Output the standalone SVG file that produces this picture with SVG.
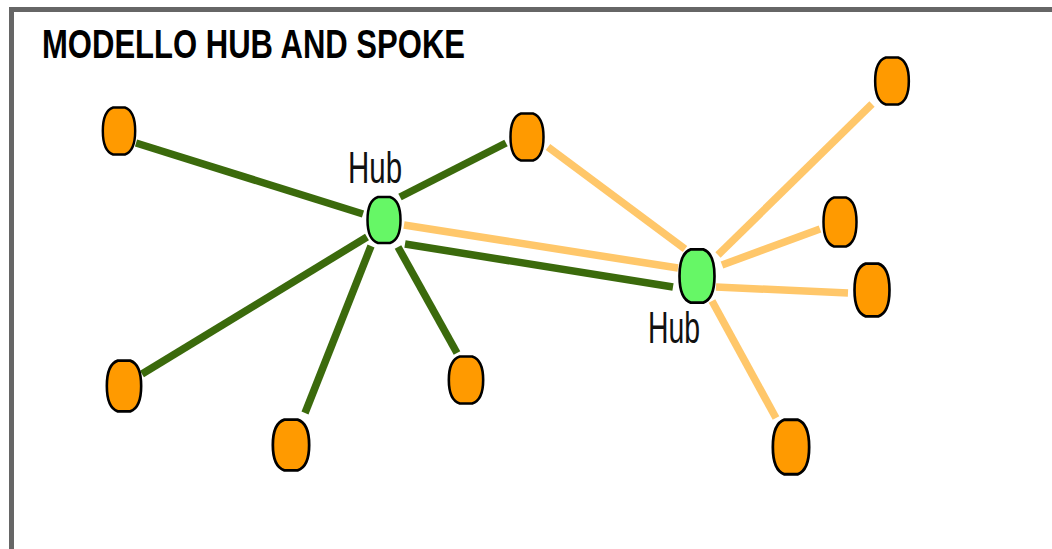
<svg xmlns="http://www.w3.org/2000/svg" xmlns:xlink="http://www.w3.org/1999/xlink" width="1052" height="549" viewBox="0 0 1052 549">
  <style>
    .frame { fill: none; stroke: #666666; stroke-width: 5; }
    .core { stroke: #3b6a0c; stroke-width: 7.5; stroke-linecap: butt; }
    .spoke { stroke: #ffc76a; stroke-width: 7.5; stroke-linecap: butt; }
    .spokeNode { fill: #ff9a00; stroke: #000; stroke-width: 2.5; stroke-linejoin: round; }
    .hubNode { fill: #66f766; stroke: #000; stroke-width: 2.5; stroke-linejoin: round; }
    .title { font-family: "Liberation Sans", Arial, sans-serif; font-weight: bold; font-size: 41px; fill: #000; }
    .label { font-family: "Liberation Sans", Arial, sans-serif; font-size: 44px; fill: #111; }
  </style>
  <defs>
    <!-- oval node outline with flattened ends, centred on the origin -->
    <path id="oct" d="M-6,-23.5 L6,-23.5 Q16.5,-20 16.5,0 Q16.5,20 6,23.5 L-6,23.5 Q-16.5,20 -16.5,0 Q-16.5,-20 -6,-23.5 Z"/>
  </defs>

  <rect width="1052" height="549" fill="#ffffff"/>
  <!-- outer frame: top and left rules -->
  <path class="frame" d="M11.5,549 L11.5,9.5 L1052,9.5"/>

  <text class="title" x="42" y="58" textLength="423" lengthAdjust="spacingAndGlyphs">MODELLO HUB AND SPOKE</text>

  <g id="connectors">
    <!-- links of the first hub -->
    <line class="core" x1="136" y1="143" x2="363" y2="214"/>
    <line class="core" x1="400" y1="197" x2="506" y2="143"/>
    <line class="core" x1="367" y1="237" x2="142" y2="374"/>
    <line class="core" x1="371" y1="246" x2="305" y2="413"/>
    <line class="core" x1="398" y1="247" x2="457" y2="353"/>
    <line class="core" x1="405" y1="244" x2="673" y2="287"/>
    <!-- links of the second hub -->
    <line class="spoke" x1="404" y1="225" x2="678" y2="268"/>
    <line class="spoke" x1="548" y1="147" x2="685" y2="249"/>
    <line class="spoke" x1="718" y1="255" x2="872" y2="104"/>
    <line class="spoke" x1="722" y1="265" x2="820" y2="229"/>
    <line class="spoke" x1="716" y1="287" x2="848" y2="293"/>
    <line class="spoke" x1="712" y1="301" x2="776" y2="418"/>
  </g>

  <g id="hub-1">
    <use xlink:href="#oct" class="hubNode" transform="translate(384,220) scale(1.0,0.98)"/>
    <text class="label" x="348" y="183" textLength="54" lengthAdjust="spacingAndGlyphs">Hub</text>
  </g>
  <g id="hub-2">
    <use xlink:href="#oct" class="hubNode" transform="translate(697,276) scale(1.06,1.13)"/>
    <text class="label" x="648" y="343" textLength="52" lengthAdjust="spacingAndGlyphs">Hub</text>
  </g>

  <g id="node-a"><use xlink:href="#oct" class="spokeNode" transform="translate(119,131) scale(0.98,1)"/></g>
  <g id="node-b"><use xlink:href="#oct" class="spokeNode" transform="translate(527,137) scale(1,1)"/></g>
  <g id="node-c"><use xlink:href="#oct" class="spokeNode" transform="translate(892,81) scale(1.02,1)"/></g>
  <g id="node-d"><use xlink:href="#oct" class="spokeNode" transform="translate(840,222) scale(1,1.04)"/></g>
  <g id="node-e"><use xlink:href="#oct" class="spokeNode" transform="translate(872,290) scale(1.06,1.12)"/></g>
  <g id="node-f"><use xlink:href="#oct" class="spokeNode" transform="translate(791,447) scale(1.1,1.16)"/></g>
  <g id="node-g"><use xlink:href="#oct" class="spokeNode" transform="translate(466,380) scale(1.04,1)"/></g>
  <g id="node-h"><use xlink:href="#oct" class="spokeNode" transform="translate(291,445) scale(1.1,1.08)"/></g>
  <g id="node-i"><use xlink:href="#oct" class="spokeNode" transform="translate(124,386) scale(1.04,1.08)"/></g>
</svg>
